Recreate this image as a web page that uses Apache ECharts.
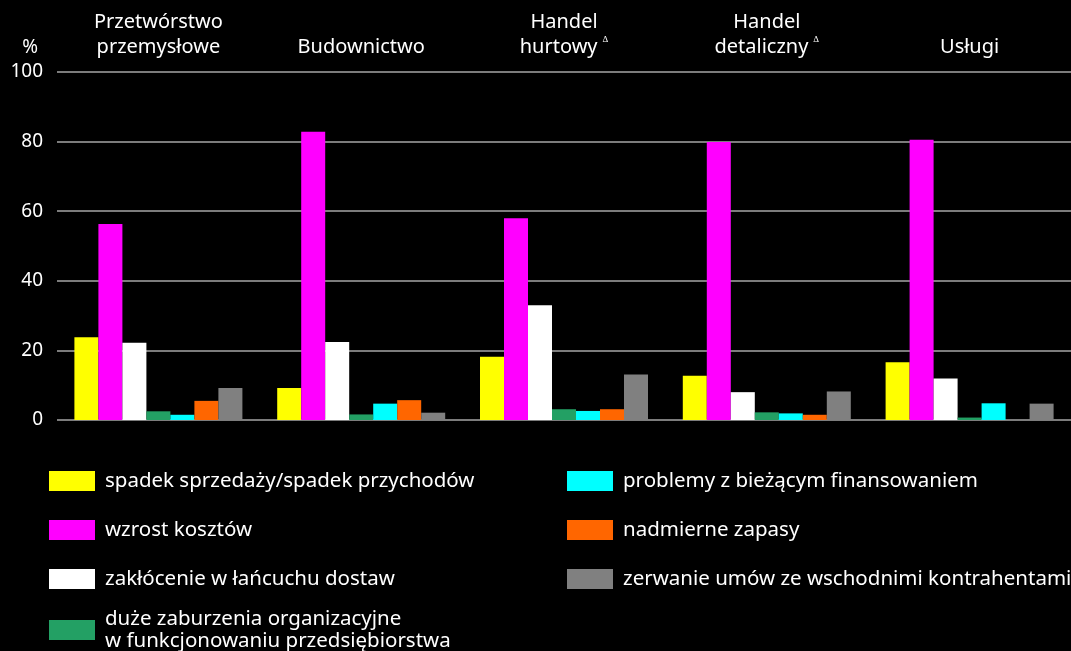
<!DOCTYPE html>
<html><head><meta charset="utf-8">
<script src="https://cdn.jsdelivr.net/npm/echarts@6/dist/echarts.min.js"></script>
<style>html,body{margin:0;padding:0;background:#000}#c{width:1071px;height:651px}</style>
</head><body><div id="c"></div>
<script>
const categories = ['Przetwórstwo\nprzemysłowe', 'Budownictwo', 'Handel\nhurtowy', 'Handel\ndetaliczny', 'Usługi'];
const superscripts = [false, false, true, true, false];
const seriesNames = [
  'spadek sprzedaży/spadek przychodów',
  'wzrost kosztów',
  'zakłócenie w łańcuchu dostaw',
  'duże zaburzenia organizacyjne\nw funkcjonowaniu przedsiębiorstwa',
  'problemy z bieżącym finansowaniem',
  'nadmierne zapasy',
  'zerwanie umów ze wschodnimi kontrahentami'
];
const spadekSprzedazy = [23.8, 9.2, 18.2, 12.7, 16.6];
const wzrostKosztow   = [56.3, 82.8, 58.0, 79.9, 80.5];
const zaklocenie      = [22.2, 22.4, 33.0, 8.0, 11.9];
const zaburzenia      = [2.5, 1.6, 3.1, 2.2, 0.7];
const finansowanie    = [1.5, 4.7, 2.6, 1.9, 4.8];
const zapasy          = [5.5, 5.7, 3.1, 1.5, 0];
const zerwanieUmow    = [9.2, 2.1, 13.1, 8.2, 4.7];
const yTicks = [0, 20, 40, 60, 80, 100];

const values = [spadekSprzedazy, wzrostKosztow, zaklocenie, zaburzenia, finansowanie, zapasy, zerwanieUmow];
const colors = ['#FFFF00', '#FF00FF', '#FFFFFF', '#23A064', '#00FFFF', '#FF6600', '#808080'];
const FONT = 'Noto Sans';

const chart = echarts.init(document.getElementById('c'));
const legendBase = {
  orient: 'vertical', icon: 'rect', itemWidth: 46, itemHeight: 20,
  selectedMode: false, padding: 0,
  textStyle: { color: '#fff', fontSize: 20.5, fontFamily: FONT, lineHeight: 22, padding: [0, 0, 0, 5] }
};
chart.setOption({
  backgroundColor: '#000',
  animation: false,
  textStyle: { fontFamily: FONT },
  grid: { left: 57, right: 0, top: 72, bottom: 231 },
  legend: [
    Object.assign({}, legendBase, { left: 49, top: 470, itemGap: 27, data: seriesNames.slice(0, 3) }),
    Object.assign({}, legendBase, { left: 49, top: 608, data: seriesNames.slice(3, 4) }),
    Object.assign({}, legendBase, { left: 567, top: 470, itemGap: 27, data: seriesNames.slice(4) })
  ],
  xAxis: {
    type: 'category', position: 'top', data: categories,
    axisLine: { show: false }, axisTick: { show: false },
    axisLabel: {
      color: '#fff', fontSize: 20, lineHeight: 25, margin: 12, interval: 0,
      formatter: function (v, i) {
        const lines = v.split('\n');
        return lines.map((l, k) => (k === lines.length - 1 && superscripts[i]) ? '{a|' + l + ' }{s|∆}' : '{a|' + l + '}').join('\n');
      },
      rich: {
        a: { color: '#fff', fontSize: 20, lineHeight: 25, fontFamily: FONT },
        s: { color: '#fff', fontSize: 9, lineHeight: 25, verticalAlign: 'top', padding: [0, 0, 10, 0], fontFamily: FONT }
      }
    }
  },
  yAxis: {
    type: 'value', min: yTicks[0], max: yTicks[yTicks.length - 1], interval: 20,
    name: '%', nameLocation: 'end', nameGap: 15,
    nameTextStyle: { color: '#fff', fontSize: 19, align: 'right', padding: [0, 19, 0, 0] },
    axisLine: { show: false }, axisTick: { show: false },
    axisLabel: { color: '#fff', fontSize: 19, margin: 14 },
    splitLine: { lineStyle: { color: '#a6a6a6', width: 1.5 } }
  },
  series: seriesNames.map((n, i) => ({
    name: n, type: 'bar', data: values[i], barWidth: 24, barGap: '0%',
    itemStyle: { color: colors[i] }
  }))
});
</script></body></html>
